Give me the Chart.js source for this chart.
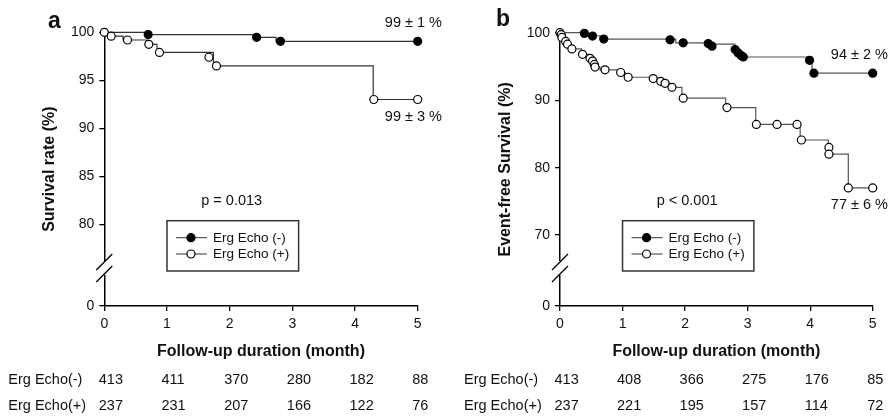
<!DOCTYPE html>
<html><head><meta charset="utf-8">
<script src="https://cdn.jsdelivr.net/npm/chart.js@4/dist/chart.umd.min.js"></script>
<style>
html,body{margin:0;padding:0;background:#fff;}
#wrap{position:relative;width:892px;height:417px;overflow:hidden;}
.panel{position:absolute;top:0;width:446px;height:417px;}
</style></head><body>
<div id="wrap">
<div class="panel" style="left:0"><canvas id="ca" width="446" height="417"></canvas></div>
<div class="panel" style="left:446px"><canvas id="cb" width="446" height="417"></canvas></div>
</div>
<script>
// ---------- shared ----------
const xTicks = [0, 1, 2, 3, 4, 5];
const groupLabels = ['Erg Echo (-)', 'Erg Echo (+)'];
const tableLabels = ['Erg Echo(-)', 'Erg Echo(+)'];
const xTitle = 'Follow-up duration (month)';

// ---------- panel a ----------
const aTitleY = 'Survival rate (%)';
const aYTicks = [0, 80, 85, 90, 95, 100];
const aNegStepT = [0, 0.66, 2.42, 2.74, 5];
const aNegStepS = [100, 99.76, 99.48, 99.06, 99.06];
const aNegCensT = [0.70, 2.43, 2.81, 5];
const aNegCensS = [99.76, 99.48, 99.06, 99.06];
const aPosStepT = [0, 0.06, 0.30, 0.68, 0.84, 1.74, 4.29, 5];
const aPosStepS = [100, 99.6, 99.2, 98.75, 97.9, 96.5, 93.0, 93.0];
const aPosCensT = [0, 0.11, 0.37, 0.71, 0.88, 1.67, 1.79, 4.30, 5];
const aPosCensS = [100, 99.6, 99.2, 98.75, 97.9, 97.4, 96.5, 93.0, 93.0];
const aAtRiskNeg = [413, 411, 370, 280, 182, 88];
const aAtRiskPos = [237, 231, 207, 166, 122, 76];
const aEndLabels = ['99 ± 1 %', '99 ± 3 %'];
const aPValue = 'p = 0.013';

// ---------- panel b ----------
const bTitleY = 'Event-free Survival (%)';
const bYTicks = [0, 70, 80, 90, 100];
const bNegStepT = [0, 0.42, 0.64, 1.85, 2.40, 2.80, 2.88, 4.03, 5];
const bNegStepS = [100, 99.55, 99.05, 98.5, 98.3, 97.4, 96.4, 94.0, 94.0];
const bNegCensT = [0.39, 0.52, 0.70, 1.76, 1.97, 2.37, 2.43, 2.80, 2.85, 2.90, 2.93, 3.99, 4.06, 5];
const bNegCensS = [99.9, 99.5, 99.05, 98.95, 98.5, 98.4, 98.0, 97.5, 97.0, 96.6, 96.4, 95.9, 94.0, 94.0];
const bPosStepT = [0, 0.01, 0.03, 0.08, 0.11, 0.17, 0.34, 0.46, 0.51, 0.54, 0.56, 0.64, 0.92, 1.04, 1.47, 1.58, 1.66, 1.76, 1.95, 2.65, 3.13, 3.84, 4.29, 4.61, 5];
const bPosStepS = [100, 99.7, 99.3, 98.7, 98.3, 97.6, 96.8, 96.2, 95.8, 95.3, 94.9, 94.5, 94.1, 93.4, 93.2, 92.8, 92.5, 91.9, 90.3, 88.9, 86.4, 84.1, 82.0, 77.0, 77.0];
const bPosCensT = [0, 0.02, 0.03, 0.09, 0.12, 0.19, 0.36, 0.48, 0.52, 0.55, 0.56, 0.72, 0.97, 1.09, 1.49, 1.61, 1.68, 1.79, 1.97, 2.67, 3.14, 3.47, 3.79, 3.86, 4.30, 4.30, 4.61, 5];
const bPosCensS = [100, 99.7, 99.3, 98.7, 98.3, 97.6, 96.8, 96.2, 95.8, 95.3, 94.9, 94.5, 94.1, 93.4, 93.2, 92.8, 92.5, 91.9, 90.3, 88.9, 86.4, 86.4, 86.4, 84.1, 83.0, 82.0, 77.0, 77.0];
const bAtRiskNeg = [413, 408, 366, 275, 176, 85];
const bAtRiskPos = [237, 221, 195, 157, 114, 72];
const bEndLabels = ['94 ± 2 %', '77 ± 6 %'];
const bPValue = 'p < 0.001';

// ---------- rendering ----------
const FONT = '"Liberation Sans", Arial, Helvetica, sans-serif';
Chart.defaults.font.family = FONT;
Chart.defaults.color = '#111';

const zip = (t, s) => t.map((v, i) => ({x: v, y: s[i]}));

const decor = {
  id: 'decor',
  afterDraw(chart, args, o) {
    const ctx = chart.ctx, ca = chart.chartArea, xs = chart.scales.x, ys = chart.scales.y;
    ctx.save();
    // axis break
    const ax = ca.left, b = ca.bottom;
    ctx.fillStyle = '#fff';
    ctx.fillRect(ax - 3, b - 45, 6, 14);
    ctx.strokeStyle = '#000';
    ctx.lineWidth = 1.3;
    ctx.beginPath();
    ctx.moveTo(ax - 8, b - 36); ctx.lineTo(ax + 8, b - 52);
    ctx.moveTo(ax - 8, b - 24); ctx.lineTo(ax + 8, b - 40);
    ctx.stroke();
    // panel letter
    ctx.fillStyle = '#111';
    ctx.font = 'bold 23px ' + FONT;
    ctx.textAlign = 'left'; ctx.textBaseline = 'alphabetic';
    ctx.fillText(o.letter, o.letterX, o.letterY);
    // end labels
    ctx.font = '14.5px ' + FONT;
    ctx.textAlign = 'right'; ctx.textBaseline = 'middle';
    ctx.fillText(o.endLabels[0], chart.width - 4, ys.getPixelForValue(o.negEnd) - 18);
    ctx.fillText(o.endLabels[1], chart.width - 4, ys.getPixelForValue(o.posEnd) + 17);
    // p value
    ctx.textAlign = 'center';
    ctx.fillText(o.p, xs.getPixelForValue(2) + 2, ca.top + 0.617 * (ca.bottom - ca.top));
    // legend box
    const lx = xs.getPixelForValue(1), rx = xs.getPixelForValue(3.1);
    const by = ca.bottom - 35, ty = by - 50.3;
    ctx.strokeStyle = '#333'; ctx.lineWidth = 1.5;
    ctx.strokeRect(lx, ty, rx - lx, by - ty);
    const rows = [ty + 17, ty + 33.3];
    ctx.font = '13.5px ' + FONT;
    ctx.textAlign = 'left';
    rows.forEach((ry, i) => {
      ctx.strokeStyle = '#333'; ctx.lineWidth = 1;
      ctx.beginPath(); ctx.moveTo(lx + 9, ry); ctx.lineTo(lx + 40, ry); ctx.stroke();
      ctx.beginPath(); ctx.arc(lx + 24, ry, 4, 0, Math.PI * 2);
      ctx.fillStyle = i === 0 ? '#000' : '#fff'; ctx.fill();
      ctx.strokeStyle = '#000'; ctx.lineWidth = 1.2; ctx.stroke();
      ctx.fillStyle = '#111';
      ctx.fillText(groupLabels[i], lx + 46, ry + 0.5);
    });
    // at-risk table
    ctx.font = '14.5px ' + FONT;
    const r1 = ca.bottom + 74, r2 = ca.bottom + 99.6;
    ctx.textAlign = 'left';
    ctx.fillText(tableLabels[0], ca.left - 96, r1);
    ctx.fillText(tableLabels[1], ca.left - 96, r2);
    xTicks.forEach((t, i) => {
      const px = xs.getPixelForValue(t) - 5.5;
      ctx.fillText(String(o.riskNeg[i]), px, r1);
      ctx.fillText(String(o.riskPos[i]), px, r2);
    });
    ctx.restore();
  }
};

function makeChart(id, g) {
  const lineColor = g.lineColor;
  return new Chart(document.getElementById(id), {
    type: 'scatter',
    data: {
      datasets: [
        {label: groupLabels[1] + ' censored', data: zip(g.posCensT, g.posCensS), showLine: false,
         pointRadius: 4, pointBackgroundColor: '#fff', pointBorderColor: '#000', pointBorderWidth: 1.2, clip: false},
        {label: groupLabels[0] + ' censored', data: zip(g.negCensT, g.negCensS), showLine: false,
         pointRadius: 4, pointBackgroundColor: '#000', pointBorderColor: '#000', pointBorderWidth: 1.2, clip: false},
        {label: groupLabels[1], data: zip(g.posStepT, g.posStepS), showLine: true, stepped: 'before',
         pointRadius: 0, borderColor: lineColor, borderWidth: 1.2, clip: false},
        {label: groupLabels[0], data: zip(g.negStepT, g.negStepS), showLine: true, stepped: 'before',
         pointRadius: 0, borderColor: lineColor, borderWidth: 1.2, clip: false}
      ]
    },
    options: {
      responsive: false, animation: false, devicePixelRatio: 1,
      layout: {padding: {left: 0, top: g.top, right: 446 - g.right, bottom: 0}},
      plugins: {
        legend: {display: false}, tooltip: {enabled: false},
        decor: g.decor
      },
      scales: {
        x: {
          type: 'linear', min: 0, max: 5,
          afterBuildTicks: s => { s.ticks = xTicks.map(v => ({value: v})); },
          afterFit: s => { s.height = 417 - g.bottom; },
          grid: {drawOnChartArea: false, drawTicks: true, tickLength: 5, color: '#000', lineWidth: 1.3},
          border: {display: true, color: '#000', width: 1.5},
          ticks: {font: {size: 14}, color: '#111', padding: 5, maxRotation: 0},
          title: {display: true, text: xTitle, font: {size: 16, weight: 'bold'}, color: '#111',
                  padding: {top: 0, bottom: 65 - 9.6}}
        },
        y: {
          type: 'linear', min: g.yMin, max: 100,
          afterBuildTicks: s => { s.ticks = g.yTicks.map(v => ({value: v === 0 ? g.yMin : v})); },
          afterFit: s => { s.width = g.left; },
          grid: {drawOnChartArea: false, drawTicks: true, tickLength: 5, color: '#000', lineWidth: 1.3},
          border: {display: true, color: '#000', width: 1.5},
          ticks: {font: {size: 14}, color: '#111', padding: g.tickPad,
                  callback: v => (v === g.yMin ? '0' : String(v))},
          title: {display: true, text: g.titleY, font: {size: 16, weight: 'bold'}, color: '#111',
                  padding: {top: g.titleX - 9.6, bottom: 0}}
        }
      }
    },
    plugins: [decor]
  });
}

makeChart('ca', {
  left: 104.3, right: 417.7, top: 32.3, bottom: 306, yMin: 71.5, tickPad: 5, titleX: 50,
  lineColor: '#333', yTicks: aYTicks, titleY: aTitleY,
  negStepT: aNegStepT, negStepS: aNegStepS, negCensT: aNegCensT, negCensS: aNegCensS,
  posStepT: aPosStepT, posStepS: aPosStepS, posCensT: aPosCensT, posCensS: aPosCensS,
  decor: {letter: 'a', letterX: 48, letterY: 28, endLabels: aEndLabels,
          negEnd: aNegStepS[aNegStepS.length - 1], posEnd: aPosStepS[aPosStepS.length - 1],
          p: aPValue, riskNeg: aAtRiskNeg, riskPos: aAtRiskPos}
});
makeChart('cb', {
  left: 114, right: 426.7, top: 32.7, bottom: 306, yMin: 59.5, tickPad: 5, titleX: 60,
  lineColor: '#555', yTicks: bYTicks, titleY: bTitleY,
  negStepT: bNegStepT, negStepS: bNegStepS, negCensT: bNegCensT, negCensS: bNegCensS,
  posStepT: bPosStepT, posStepS: bPosStepS, posCensT: bPosCensT, posCensS: bPosCensS,
  decor: {letter: 'b', letterX: 50, letterY: 26, endLabels: bEndLabels,
          negEnd: bNegStepS[bNegStepS.length - 1], posEnd: bPosStepS[bPosStepS.length - 1],
          p: bPValue, riskNeg: bAtRiskNeg, riskPos: bAtRiskPos}
});
</script>
</body></html>
